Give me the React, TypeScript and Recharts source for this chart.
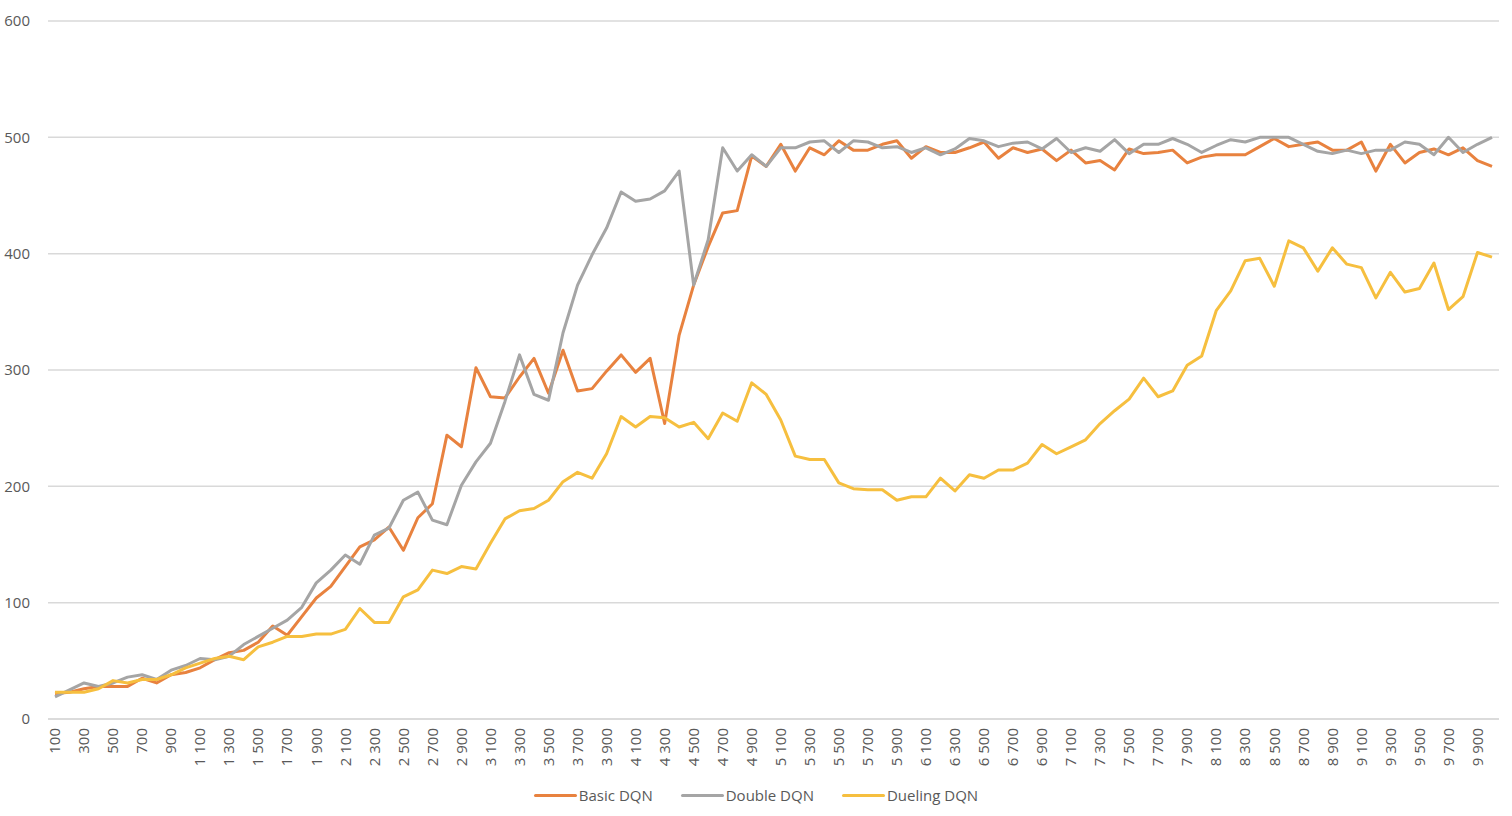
import { CartesianGrid, Legend, Line, LineChart, XAxis, YAxis } from "recharts";

// training steps on the x axis: 100, 200, ... 10000
const steps = Array.from({ length: 100 }, (_, i) => (i + 1) * 100);

const basicDqn = [
  22, 23, 26, 28, 28, 28, 35, 31, 38, 40, 44, 51, 57, 59, 66, 80, 72, 88, 104, 114,
  131, 148, 154, 165, 145, 173, 185, 244, 234, 302, 277, 276, 294, 310, 280, 317, 282, 284, 299, 313,
  298, 310, 254, 330, 373, 406, 435, 437, 484, 475, 494, 471, 491, 485, 497, 489, 489, 494, 497, 482,
  492, 487, 487, 491, 496, 482, 491, 487, 490, 480, 489, 478, 480, 472, 490, 486, 487, 489, 478, 483,
  485, 485, 485, 492, 499, 492, 494, 496, 489, 489, 496, 471, 494, 478, 487, 490, 485, 491, 480, 475,
];

const doubleDqn = [
  19, 25, 31, 28, 31, 36, 38, 34, 42, 46, 52, 51, 54, 64, 71, 78, 85, 96, 117, 128,
  141, 133, 158, 164, 188, 195, 171, 167, 201, 221, 237, 273, 313, 279, 274, 332, 373, 399, 422, 453,
  445, 447, 454, 471, 373, 412, 491, 471, 485, 475, 491, 491, 496, 497, 487, 497, 496, 491, 492, 487,
  491, 485, 490, 499, 497, 492, 495, 496, 490, 499, 487, 491, 488, 498, 486, 494, 494, 499, 494, 487,
  493, 498, 496, 500, 500, 500, 494, 488, 486, 489, 486, 489, 489, 496, 494, 485, 500, 487, 494, 500,
];

const duelingDqn = [
  23, 23, 23, 26, 33, 31, 34, 34, 38, 44, 48, 52, 54, 51, 62, 66, 71, 71, 73, 73,
  77, 95, 83, 83, 105, 111, 128, 125, 131, 129, 151, 172, 179, 181, 188, 204, 212, 207, 228, 260,
  251, 260, 259, 251, 255, 241, 263, 256, 289, 279, 257, 226, 223, 223, 203, 198, 197, 197, 188, 191,
  191, 207, 196, 210, 207, 214, 214, 220, 236, 228, 234, 240, 254, 265, 275, 293, 277, 282, 304, 312,
  351, 368, 394, 396, 372, 411, 405, 385, 405, 391, 388, 362, 384, 367, 370, 392, 352, 363, 401, 397,
];

const yTicks = [0, 100, 200, 300, 400, 500, 600];

const series = [
  { key: "basic", name: "Basic DQN", color: "#E8823F" },
  { key: "double", name: "Double DQN", color: "#A5A5A5" },
  { key: "dueling", name: "Dueling DQN", color: "#F6BF3F" },
];

const data = steps.map((step, i) => ({
  step,
  basic: basicDqn[i],
  double: doubleDqn[i],
  dueling: duelingDqn[i],
}));

const FONT = "'Open Sans', 'Noto Sans', sans-serif";
const TEXT = "#595959";

function fmtStep(v: number) {
  if (v < 1000) return String(v);
  return `${Math.floor(v / 1000)}\u00a0${String(v % 1000).padStart(3, "0")}`;
}

function StepTick({ x, y, payload }: any) {
  return (
    <text
      transform={`translate(${x},${y + 1}) rotate(-90)`}
      textAnchor="end"
      dy="0.35em"
      fontSize={15}
      fontFamily={FONT}
      fill={TEXT}
    >
      {fmtStep(payload.value)}
    </text>
  );
}

function LegendContent() {
  return (
    <div
      style={{
        height: 34,
        display: "flex",
        justifyContent: "center",
        alignItems: "center",
        gap: 28,
        fontFamily: FONT,
        fontSize: 15,
        color: TEXT,
      }}
    >
      {series.map((s) => (
        <div key={s.key} style={{ display: "flex", alignItems: "center" }}>
          <span
            style={{ width: 43, height: 3, background: s.color, borderRadius: 2, marginRight: 2 }}
          />
          <span>{s.name}</span>
        </div>
      ))}
    </div>
  );
}

export default function App() {
  return (
    <div style={{ position: "absolute", left: 0, top: 0, width: 1512, height: 816, background: "#fff" }}>
      <LineChart
        width={1512}
        height={816}
        data={data}
        margin={{ top: 21, right: 13, bottom: 4, left: 0 }}
      >
        <CartesianGrid vertical={false} stroke="#d9d9d9" strokeWidth={1.5} />
        <XAxis
          dataKey="step"
          interval={1}
          height={59}
          padding={{ left: 7, right: 7 }}
          tickLine={false}
          axisLine={{ stroke: "#d9d9d9", strokeWidth: 1.5 }}
          tick={<StepTick />}
        />
        <YAxis
          width={48}
          domain={[0, 600]}
          ticks={yTicks}
          axisLine={false}
          tickLine={false}
          tickMargin={12}
          tick={{ fontSize: 15, fontFamily: FONT, fill: TEXT }}
        />
        <Legend
          verticalAlign="bottom"
          content={<LegendContent />}
          wrapperStyle={{ left: 0, width: 1512 }}
        />
        {series.map((s) => (
          <Line
            key={s.key}
            type="linear"
            dataKey={s.key}
            name={s.name}
            stroke={s.color}
            strokeWidth={3}
            strokeLinejoin="round"
            dot={false}
            activeDot={false}
            isAnimationActive={false}
          />
        ))}
      </LineChart>
    </div>
  );
}
